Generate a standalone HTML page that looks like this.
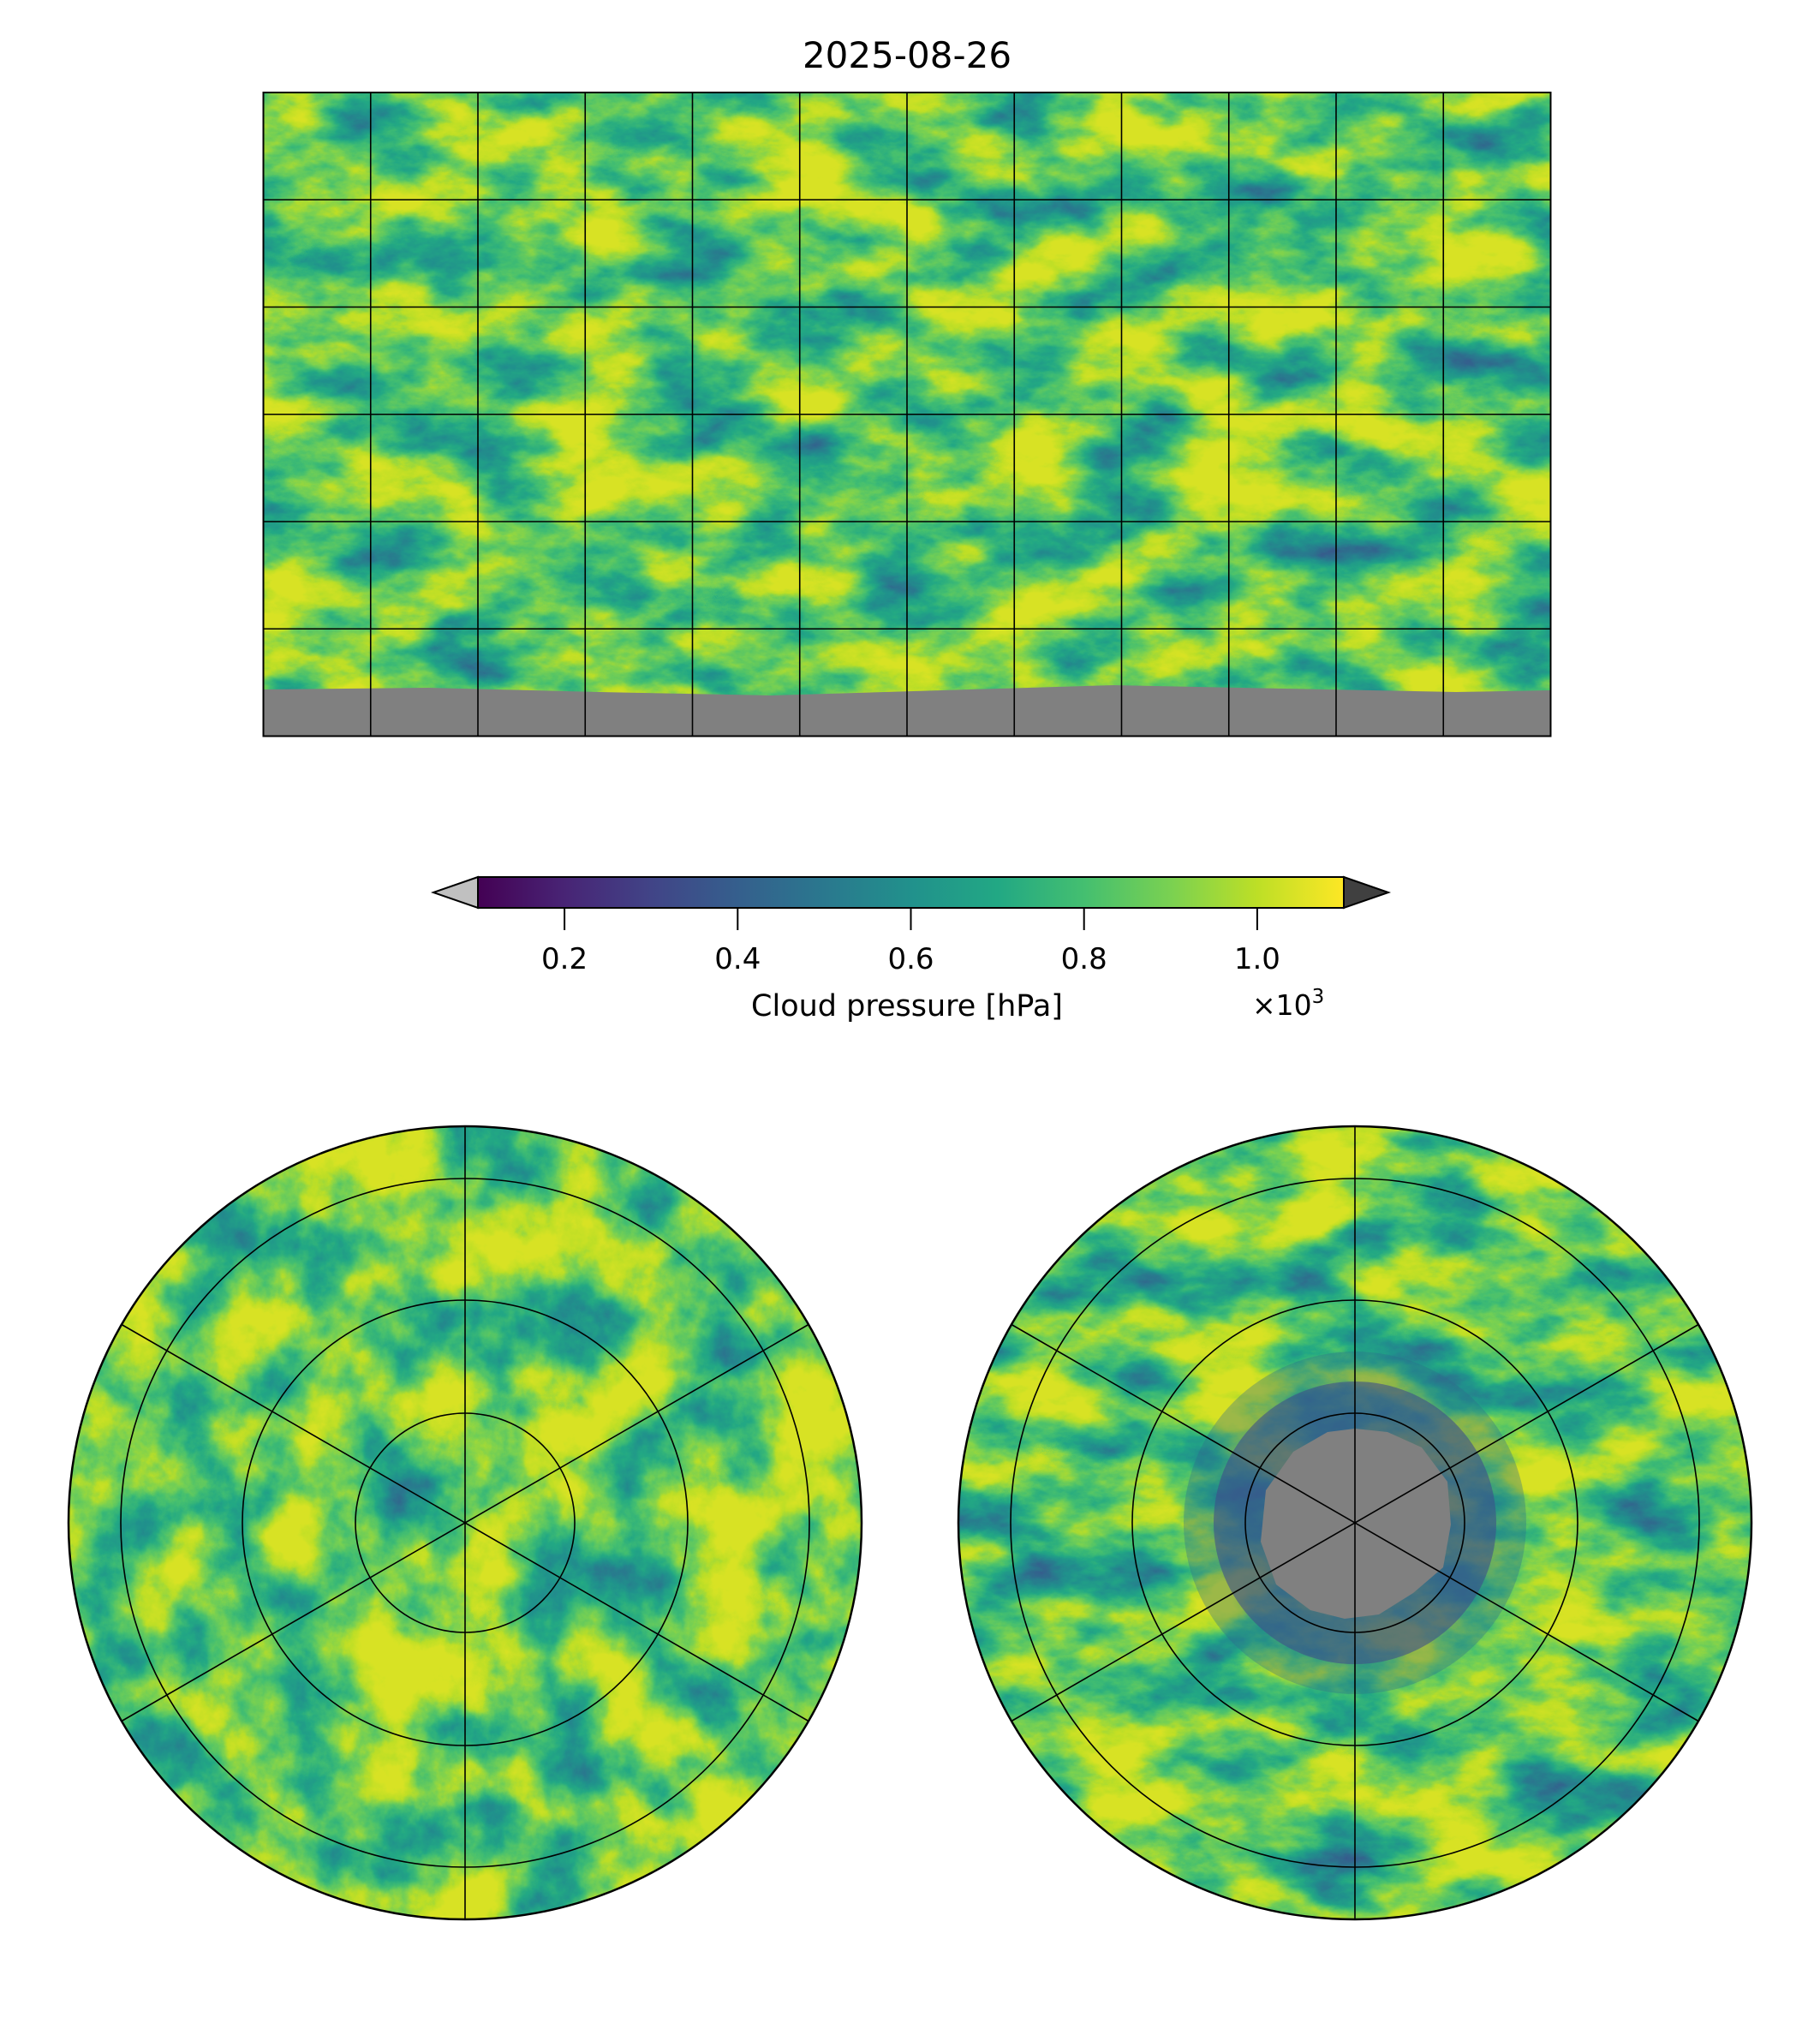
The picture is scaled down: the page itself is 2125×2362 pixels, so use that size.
<!DOCTYPE html>
<html><head><meta charset="utf-8">
<style>
html,body{margin:0;padding:0;background:#fff;}
svg{display:block;font-family:"DejaVu Sans","Liberation Sans",sans-serif;}
</style></head>
<body>
<svg id="fig" width="2125" height="2362" viewBox="0 0 2125 2362" xmlns="http://www.w3.org/2000/svg">
<defs>
  <linearGradient id="viridis" x1="0" x2="1" y1="0" y2="0">
    <stop offset="0" stop-color="#440154"/><stop offset="0.1" stop-color="#482475"/>
    <stop offset="0.2" stop-color="#414487"/><stop offset="0.3" stop-color="#355f8d"/>
    <stop offset="0.4" stop-color="#2a788e"/><stop offset="0.5" stop-color="#21918c"/>
    <stop offset="0.6" stop-color="#22a884"/><stop offset="0.7" stop-color="#44bf70"/>
    <stop offset="0.8" stop-color="#7ad151"/><stop offset="0.9" stop-color="#bddf26"/>
    <stop offset="1" stop-color="#fde725"/>
  </linearGradient>
  <filter id="clouds" x="0" y="0" width="100%" height="100%" filterUnits="userSpaceOnUse" color-interpolation-filters="sRGB">
    <feTurbulence type="fractalNoise" baseFrequency="0.008 0.015" numOctaves="6" seed="7"/>
    <feColorMatrix type="matrix" values="1.15 0 0 0 0.18  1.15 0 0 0 0.18  1.15 0 0 0 0.18  0 0 0 0 1"/>
    <feComponentTransfer>
      <feFuncR type="table" tableValues="0.267 0.283 0.254 0.207 0.164 0.128 0.135 0.267 0.478 0.741 0.85"/>
      <feFuncG type="table" tableValues="0.005 0.141 0.265 0.372 0.471 0.567 0.659 0.749 0.821 0.873 0.89"/>
      <feFuncB type="table" tableValues="0.329 0.458 0.530 0.553 0.558 0.551 0.518 0.441 0.318 0.150 0.144"/>
    </feComponentTransfer>
  </filter>
  <filter id="clouds2" x="0" y="0" width="100%" height="100%" filterUnits="userSpaceOnUse" color-interpolation-filters="sRGB">
    <feTurbulence type="fractalNoise" baseFrequency="0.01" numOctaves="6" seed="3"/>
    <feColorMatrix type="matrix" values="1.15 0 0 0 0.2  1.15 0 0 0 0.2  1.15 0 0 0 0.2  0 0 0 0 1"/>
    <feComponentTransfer>
      <feFuncR type="table" tableValues="0.267 0.283 0.254 0.207 0.164 0.128 0.135 0.267 0.478 0.741 0.85"/>
      <feFuncG type="table" tableValues="0.005 0.141 0.265 0.372 0.471 0.567 0.659 0.749 0.821 0.873 0.89"/>
      <feFuncB type="table" tableValues="0.329 0.458 0.530 0.553 0.558 0.551 0.518 0.441 0.318 0.150 0.144"/>
    </feComponentTransfer>
  </filter>
  <clipPath id="mapclip"><rect x="307.5" y="108" width="1503" height="751.5"/></clipPath>
  <clipPath id="nclip"><circle cx="543" cy="1778" r="463"/></clipPath>
  <clipPath id="sclip"><circle cx="1582" cy="1778" r="463"/></clipPath>
</defs>

<text x="1059" y="79" font-size="42" text-anchor="middle">2025-08-26</text>

<g clip-path="url(#mapclip)">
  <rect x="307.5" y="108" width="1503" height="751.5" filter="url(#clouds)"/>
  <path d="M307 805 L500 803 L700 808 L900 812 L1100 806 L1300 800 L1500 804 L1700 808 L1811 806 L1811 860 L307 860 Z" fill="#808080"/>
  <g id="mapgrid" stroke="#000" stroke-width="1.6" fill="none"></g>
</g>
<rect x="307.5" y="108" width="1503" height="751.5" fill="none" stroke="#000" stroke-width="2"/>

<g>
  <polygon points="558,1024 506,1042 558,1060" fill="#c0c0c0" stroke="#000" stroke-width="2"/>
  <polygon points="1569,1024 1621,1042 1569,1060" fill="#404040" stroke="#000" stroke-width="2"/>
  <rect x="558" y="1024" width="1011" height="36" fill="url(#viridis)" stroke="#000" stroke-width="2"/>
  <g id="cbticks"></g>
  <text x="1059" y="1186" font-size="35" text-anchor="middle">Cloud pressure [hPa]</text>
  <text x="1462" y="1185" font-size="33">×10<tspan font-size="23" dy="-14">3</tspan></text>
</g>

<g>
  <g clip-path="url(#nclip)">
    <rect x="80" y="1315" width="926" height="926" filter="url(#clouds2)"/>
  </g>
  <g id="ngrid" stroke="#000" stroke-width="1.6" fill="none"></g>
  <circle cx="543" cy="1778" r="463" fill="none" stroke="#000" stroke-width="2.5"/>
</g>

<g>
  <g clip-path="url(#sclip)">
    <rect x="1119" y="1315" width="926" height="926" filter="url(#clouds)"/>
    <circle cx="1582" cy="1778" r="200" fill="#2f6b8c" opacity="0.35"/>
    <circle cx="1582" cy="1778" r="165" fill="#3e4f8a" opacity="0.6"/>
    <path d="M1582 1668 L1620 1672 L1660 1690 L1690 1730 L1694 1780 L1685 1830 L1650 1860 L1610 1885 L1570 1890 L1530 1880 L1490 1850 L1472 1800 L1478 1740 L1510 1695 L1550 1672 Z" fill="#808080"/>
  </g>
  <g id="sgrid" stroke="#000" stroke-width="1.6" fill="none"></g>
  <circle cx="1582" cy="1778" r="463" fill="none" stroke="#000" stroke-width="2.5"/>
</g>
</svg>
<script>
const cbTicks = [0.2, 0.4, 0.6, 0.8, 1.0];
const cbTickLabels = ["0.2", "0.4", "0.6", "0.8", "1.0"];
const cbDomain = [0.1, 1.1];
const lonLines = [-150, -120, -90, -60, -30, 0, 30, 60, 90, 120, 150];
const latLines = [60, 30, 0, -30, -60];
const polarRings = [128, 260, 402];
const polarMeridians = [0, 60, 120];

const NS = "http://www.w3.org/2000/svg";
function mk(tag, attrs, parent){const e=document.createElementNS(NS,tag);for(const k in attrs)e.setAttribute(k,attrs[k]);parent.appendChild(e);return e;}
const cx0=558,cx1=1569;
function xcb(v){return cx0+(v-cbDomain[0])/(cbDomain[1]-cbDomain[0])*(cx1-cx0);}
const cbg=document.getElementById('cbticks');
cbTicks.forEach((v,i)=>{
  const l=mk('line',{x1:xcb(v),x2:xcb(v),y1:1060,y2:1086,stroke:'#000','stroke-width':2},cbg);
  
  
  const t=mk('text',{x:xcb(v),y:1131,'font-size':34,'text-anchor':'middle'},cbg);
  t.textContent=cbTickLabels[i];
  
  
});
const mx0=307.5,mw=1503,my0=108,mh=751.5;
function xlon(l){return mx0+(l+180)/360*mw;}
function ylat(a){return my0+(90-a)/180*mh;}
const mg=document.getElementById('mapgrid');
lonLines.forEach(l=>{const e=mk('line',{x1:xlon(l),x2:xlon(l),y1:my0,y2:my0+mh},mg);
  
  });
latLines.forEach(a=>{const e=mk('line',{x1:mx0,x2:mx0+mw,y1:ylat(a),y2:ylat(a)},mg);
  
  });
function polar(id,cx,cy){
  const g=document.getElementById(id);
  polarRings.forEach(r=>{const c=mk('circle',{cx:cx,cy:cy,r:r},g);
    
    });
  polarMeridians.forEach(a=>{const rad=(a+90)*Math.PI/180,R=463;
    const l=mk('line',{x1:cx+R*Math.cos(rad),y1:cy+R*Math.sin(rad),x2:cx-R*Math.cos(rad),y2:cy-R*Math.sin(rad)},g);
    
    });
}
polar('ngrid',543,1778);
polar('sgrid',1582,1778);
</script>
</body></html>
